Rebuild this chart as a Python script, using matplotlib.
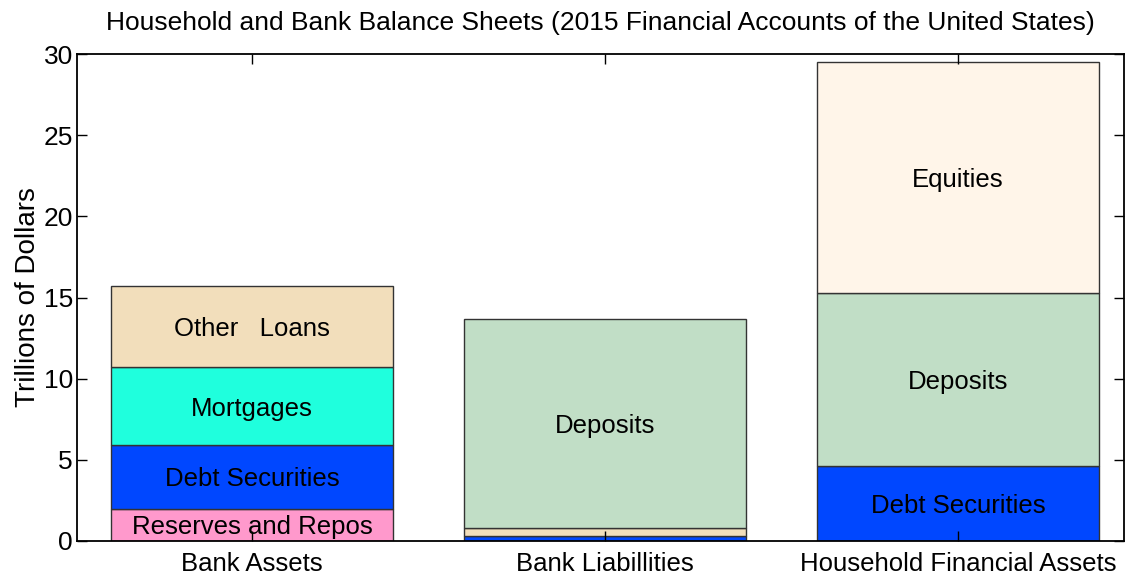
import matplotlib
matplotlib.use("Agg")
import matplotlib.pyplot as plt
import numpy as np

plt.rcParams['font.family'] = ['Liberation Sans', 'DejaVu Sans']

categories = ["Bank Assets", "Bank Liabillities", "Household Financial Assets"]

# stacked segments per bar (bottom to top)
bank_assets_labels = ["Reserves and Repos", "Debt Securities", "Mortgages", "Other   Loans"]
bank_assets_values = [2.0, 3.9, 4.8, 5.0]
bank_assets_colors = ["#FF99CC", "#0047FF", "#1FFFDD", "#F2DEBB"]

bank_liab_labels = ["", "", "Deposits"]
bank_liab_values = [0.3, 0.5, 12.9]
bank_liab_colors = ["#0047FF", "#F2DEBB", "#C1DEC6"]

household_labels = ["Debt Securities", "Deposits", "Equities"]
household_values = [4.6, 10.7, 14.2]
household_colors = ["#0047FF", "#C1DEC6", "#FFF5E9"]

stacks = [
    (bank_assets_labels, bank_assets_values, bank_assets_colors),
    (bank_liab_labels, bank_liab_values, bank_liab_colors),
    (household_labels, household_values, household_colors),
]

fig = plt.figure(figsize=(11.25, 5.78), dpi=100)
ax = fig.add_axes([77/1125, 1 - 541/578, (1124 - 77)/1125, (541 - 54)/578])

x = np.arange(len(categories))
for xi, (labels, values, colors) in zip(x, stacks):
    bottom = 0.0
    for lab, v, c in zip(labels, values, colors):
        ax.bar(xi, v, bottom=bottom, width=0.8, color=c, edgecolor="#333333", linewidth=1.0)
        if lab:
            ax.text(xi, bottom + v / 2, lab, ha="center", va="center_baseline", fontsize=18.5)
        bottom += v

ax.set_xlim(-0.496, 2.47)
ax.set_ylim(0, 30)
ax.set_yticks([0, 5, 10, 15, 20, 25, 30])
ax.set_xticks(x)
ax.set_xticklabels(categories, fontsize=18.5)
ax.tick_params(axis='y', labelsize=19, pad=3)
ax.tick_params(axis='x', pad=8)
ax.tick_params(direction='in', top=True, right=True, length=7, width=1)
for s in ax.spines.values():
    s.set_linewidth(1.3)
ax.set_ylabel("Trillions of Dollars", fontsize=20, labelpad=2)
ax.set_title("Household and Bank Balance Sheets (2015 Financial Accounts of the United States)", fontsize=19, pad=17)

fig.savefig("out.png", dpi=100)
